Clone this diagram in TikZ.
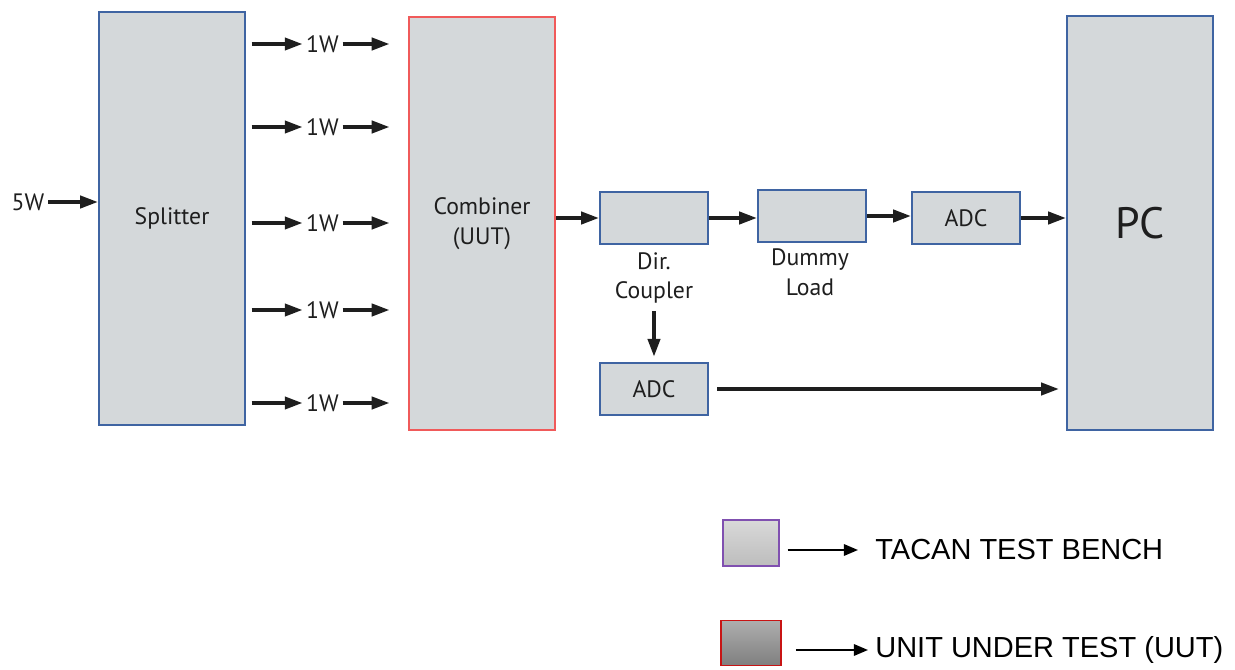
\documentclass[tikz,border=0pt]{standalone}
\usepackage{fontspec}
\setmainfont{PT Sans}
\newfontfamily\legfont{Liberation Sans}
\usetikzlibrary{arrows.meta}
\definecolor{blockfill}{HTML}{D4D8DA}
\definecolor{blockline}{HTML}{3F64A2}
\definecolor{uutline}{HTML}{F05A5A}
\definecolor{ink}{HTML}{1E1E1E}
\definecolor{benchline}{HTML}{8050B0}
\definecolor{legred}{HTML}{C81414}

\begin{document}
\begin{tikzpicture}[font=\fontsize{13.5}{17}\selectfont,block/.style={draw=blockline,line width=1.4pt,fill=blockfill,align=center,text=ink},uut/.style={block,draw=uutline},small/.style={block,minimum width=2.16cm,minimum height=1.04cm},lbl/.style={align=center,text=ink,inner sep=2pt},arrow/.style={-{Triangle[length=10pt,width=7pt]},line width=1.8pt,ink},legarrow/.style={-{Triangle[length=8pt,width=6.5pt]},line width=1.1pt,black},legtext/.style={anchor=west,inner sep=0pt,font=\legfont\fontsize{16.5}{18}\selectfont}]
 \useasboundingbox (0,0) rectangle (24.7,13.38);
 \node[block,minimum width=2.92cm,minimum height=8.26cm] (split) at (3.44,9.01) {Splitter};
 \node[uut,minimum width=2.92cm,minimum height=8.26cm] (comb) at (9.64,8.91) {Combiner\\(UUT)};
 \node[block,minimum width=2.92cm,minimum height=8.28cm,font=\fontsize{25}{28}\selectfont] (pc) at (22.8,8.92) {PC};
 \node[small] (dirc) at (13.08,9.02) {};
 \node[small] (dummy) at (16.24,9.06) {};
 \node[small] (adca) at (19.32,9.02) {ADC};
 \node[small] (adcb) at (13.08,5.6) {ADC};
 \node[lbl] (dirlbl) at (13.08,7.82) {Dir.\\Coupler};
 \node[lbl] (loadlbl) at (16.2,7.94) {Dummy\\Load};
 % input and the five 1W branches
 \node[lbl] (inw) at (0.56,9.34) {5W};
 \draw[arrow] (inw.east) -- (inw.east -| split.west);
 \foreach \i/\y in {1/12.5,2/10.84,3/8.92,4/7.18,5/5.32}{
  \node[lbl] (w\i) at (6.45,\y) {1W};
  \draw[arrow,shorten <=3pt] (w\i.west -| split.east) -- (w\i.west);
  \draw[arrow,shorten >=10.5pt] (w\i.east) -- (w\i.east -| comb.west);
 }
 % signal chain
 \draw[arrow] (dirc.west -| comb.east) -- (dirc.west);
 \draw[arrow] (dirc.east) -- (dirc.east -| dummy.west);
 \draw[arrow] (dummy.east) -- (dummy.east -| adca.west);
 \draw[arrow] (adca.east) -- (adca.east -| pc.west);
 \draw[arrow,shorten <=2pt,shorten >=3pt] (dirlbl.south) -- (adcb.north);
 \draw[arrow,shorten <=4.5pt,shorten >=4pt] (adcb.east) -- (adcb.east -| pc.west);
 % legend
 \node[draw=benchline,line width=0.8pt,top color=black!15,bottom color=black!26,minimum width=1.12cm,minimum height=0.92cm] (leg1) at (15.02,2.52) {};
 \node[draw=legred,line width=0.8pt,top color=black!32,bottom color=black!50,minimum width=1.2cm,minimum height=0.9cm] (leg2) at (15.02,0.52) {};
 \node[legtext] (tb) at (17.5,2.38) {TACAN TEST BENCH};
 \node[legtext] (ut) at (17.5,0.38) {UNIT UNDER TEST (UUT)};
 \draw[legarrow,shorten <=4.5pt,shorten >=9.7pt] (tb.west -| leg1.east) -- (tb.west);
 \draw[legarrow,shorten <=8pt,shorten >=4pt] (ut.west -| leg2.east) -- (ut.west);
\end{tikzpicture}
\end{document}
